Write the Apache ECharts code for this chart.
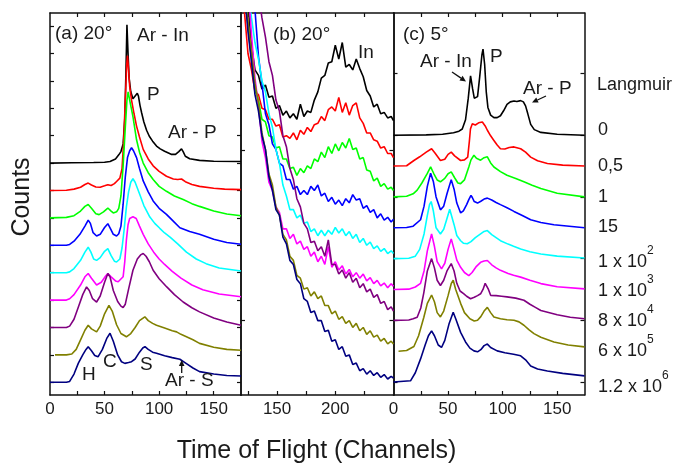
<!DOCTYPE html>
<html>
<head>
<meta charset="utf-8">
<script src="https://cdn.jsdelivr.net/npm/echarts@6/dist/echarts.min.js"></script>
<style>
html,body{margin:0;padding:0;background:#fff}
#main{width:681px;height:465px}
</style>
</head>
<body>
<div id="main"></div>
<script>
// exposure labels (Langmuir), one per curve, top to bottom
var exposureText = ['0', '0,5', '1', '15', '1 x 10', '1 x 10', '8 x 10', '6 x 10', '1.2 x 10'];
var exposurePow = ['', '', '', '', '2', '3', '4', '5', '6'];
var colors = ['#000000', '#ff0000', '#00ff00', '#0000ff', '#00ffff', '#ff00ff', '#800080', '#808000', '#000080'];
// vertical offset of each curve (stacked)
var offsets = [8, 7, 6, 5, 4, 3, 2, 1, 0];

// ---- panel (a) 20 deg : [channel, counts above baseline]
var aBlack = [[0,0],[20,0.01],[40,0.02],[50,0.03],[55,0.06],[60,0.15],[63,0.3],[65,0.42],[67,0.7],[68.5,1.6],[69.5,3.2],[70.5,5.05],[71.5,4.0],[72.5,3.1],[74,2.6],[76,2.35],[78,2.45],[80,2.55],[81,2.45],[82.5,2.1],[84,1.83],[86,1.5],[88.5,1.2],[91,0.98],[94,0.8],[97.6,0.62],[101,0.52],[105,0.43],[111,0.32],[115,0.32],[118,0.42],[120.5,0.52],[122,0.42],[124,0.25],[128,0.16],[137,0.1],[150,0.07],[175,0.06]];
var aRed = [[0,0],[15,0.01],[22,0.05],[28,0.12],[32,0.22],[35,0.27],[38,0.2],[42,0.13],[46,0.12],[50,0.17],[53,0.21],[56,0.18],[59,0.25],[61,0.33],[64,0.45],[66,0.8],[67.5,1.8],[69,3.3],[70.3,4.6],[71,4.92],[72,4.4],[73,3.8],[74.7,3.3],[77,2.8],[79.3,2.35],[82,1.95],[85.4,1.5],[90,1.15],[94.5,0.9],[100,0.7],[106.7,0.52],[113,0.42],[117,0.4],[120.5,0.42],[124,0.32],[130,0.22],[137,0.15],[150,0.08],[160,0.05],[175,0.03]];
var aGreen = [[0,0],[15,0.02],[22,0.08],[28,0.25],[32,0.42],[35,0.49],[38,0.35],[42,0.15],[45,0.12],[49,0.22],[53,0.36],[56,0.25],[58,0.18],[61,0.22],[63,0.35],[65,0.8],[67,1.9],[69,3.3],[70.5,4.3],[71.6,4.6],[73,4.3],[74.5,4.0],[76,3.7],[79.3,2.85],[82,2.4],[85.4,2.0],[90,1.65],[94.5,1.4],[100,1.15],[106.7,0.97],[114,0.8],[122,0.67],[130,0.52],[137,0.42],[150,0.25],[162,0.14],[175,0.08]];
var aBlue = [[0,0],[15,0],[18,0.03],[22,0.15],[27.4,0.4],[32,0.7],[35,0.92],[37,0.8],[39.5,0.46],[42.7,0.34],[46,0.4],[50,0.65],[53,0.79],[55.5,0.6],[58,0.4],[61,0.34],[63,0.42],[65,0.7],[67,1.5],[69,2.5],[71,3.2],[73,3.45],[74.7,3.56],[76.5,3.45],[79.3,3.2],[82,2.8],[85.4,2.35],[90,1.95],[94.5,1.62],[100,1.35],[106.7,1.13],[112,0.92],[119,0.64],[128,0.5],[137,0.4],[150,0.22],[162,0.1],[175,0.04]];
var aCyan = [[0,0],[15,0],[18,0.03],[22,0.15],[28,0.45],[32,0.75],[35,0.93],[37.5,0.75],[40,0.5],[42.7,0.45],[46,0.55],[50,0.78],[53,0.88],[56,0.62],[59,0.42],[61,0.39],[64,0.5],[66,0.9],[68,1.6],[70,2.4],[72,2.95],[74,3.3],[76,3.43],[78,3.3],[82,2.88],[86,2.45],[91.5,2.03],[96,1.8],[100.6,1.62],[105,1.45],[110,1.3],[117,1.05],[125,0.75],[134,0.5],[143,0.33],[155,0.17],[175,0.06]];
var aMagenta = [[0,0],[15,0],[18,0.05],[22,0.2],[28,0.55],[32,0.85],[35,0.97],[38,0.8],[42.7,0.55],[47,0.65],[51,0.88],[53,0.97],[56,0.85],[60,0.7],[62.5,0.67],[64.5,0.75],[67,0.85],[68.5,1.4],[70,2.2],[71.5,2.75],[73,2.98],[76,3.04],[79,2.98],[82,2.7],[85.4,2.4],[90,2.05],[95,1.75],[100,1.5],[105,1.3],[112,1.05],[120,0.8],[130,0.55],[140,0.38],[155,0.22],[175,0.12]];
var aPurple = [[0,0],[15,0],[18,0.05],[22,0.3],[26,0.75],[30,1.2],[33.5,1.48],[36,1.35],[39,1.05],[42.7,0.93],[46,1.15],[50,1.65],[53,1.97],[55,1.85],[58,1.35],[62,0.95],[65,0.78],[67,0.73],[69,0.85],[72,1.4],[76,2.09],[80,2.5],[83,2.65],[85.4,2.7],[88,2.6],[91,2.4],[94.5,2.09],[100,1.78],[107,1.48],[114,1.2],[122,0.93],[130,0.72],[137,0.57],[150,0.35],[162,0.2],[175,0.08]];
var aOlive = [[4.6,0],[15,0],[20,0.03],[24,0.2],[28,0.55],[32,0.9],[35,1.08],[38,0.95],[42.7,0.84],[46,1.05],[50,1.5],[54,1.81],[57,1.6],[61,1.1],[65,0.78],[70,0.66],[74,0.78],[78,1.0],[82,1.25],[86.9,1.39],[90,1.25],[94,1.15],[97.6,1.08],[105,0.98],[112,0.88],[116,0.84],[120,0.75],[125,0.66],[131,0.55],[137,0.42],[150,0.28],[162,0.2],[175,0.17]];
var aNavy = [[0,0],[15,0],[18,0.03],[22,0.3],[26,0.7],[30,1.0],[33,1.2],[35,1.3],[38,1.15],[41,0.98],[44,0.93],[48,1.2],[52,1.6],[55,1.79],[58,1.5],[62,1.0],[65.5,0.75],[68.6,0.69],[72,0.72],[74.7,0.75],[78,0.85],[82,1.1],[85,1.25],[87,1.3],[90,1.2],[94,1.1],[97.6,1.06],[105,0.97],[112,0.9],[119,0.84],[125,0.68],[131,0.52],[137,0.39],[150,0.3],[162,0.25],[175,0.23]];

// ---- panel (b) 20 deg, high channels : one value per channel in chB
var chB = [119,122,125,128,131,134,137,140,143,146,149,152,155,158,161,164,167,170,173,176,179,182,185,188,191,194,197,200,203,206,209,212,215,218,221,224,227,230,233,236,239,242,245,248,250];
var bBlack = [9.5,7.6,5.8,4.3,3.4,3.2,2.7,2.85,2.4,2.45,2.0,2.1,1.75,1.9,1.65,1.8,1.6,2.15,1.7,1.9,1.85,2.3,2.6,3.1,3.2,3.65,3.7,4.3,3.8,4.4,3.5,3.6,3.4,3.8,3.45,3.15,2.65,2.45,2.05,2.15,1.8,1.85,1.65,1.7,1.55];
var bRed = [8.5,6.5,5.0,4.4,3.6,3.5,3.0,2.95,2.6,2.6,2.35,2.4,1.95,2.0,1.9,2.1,1.85,2.2,2.05,2.3,2.15,2.4,2.45,2.7,2.55,2.95,3.05,2.9,3.4,2.85,3.2,2.75,3.1,3.2,2.65,2.45,2.1,2.1,1.85,1.8,1.55,1.6,1.35,1.35,1.2];
var bGreen = [10,8.2,7.0,5.8,4.7,4.3,3.6,3.5,3.0,2.95,2.55,2.6,2.15,2.15,1.8,1.85,1.55,1.8,1.65,1.9,1.8,2.15,2.05,2.4,2.2,2.6,2.35,2.7,2.45,2.75,2.55,2.9,2.5,2.55,2.15,2.2,1.75,1.7,1.35,1.45,1.15,1.25,1.05,1.12,1.0];
var bBlue = [14,13,11.5,10,8.6,6.9,5.9,4.8,4.4,3.7,3.5,3.0,2.9,2.4,2.4,2.05,2.15,1.85,2.0,1.85,2.15,2.0,2.2,1.8,1.9,1.6,1.75,1.5,1.65,1.45,1.7,1.55,1.85,1.65,1.7,1.35,1.45,1.2,1.3,1.0,1.15,0.92,1.02,0.85,0.95];
var bCyan = [14,12.5,10.3,9.3,8.4,7.8,7.0,6.6,5.8,5.3,4.5,4.0,3.2,2.8,2.3,2.3,2.0,2.1,1.8,1.85,1.5,1.6,1.35,1.55,1.35,1.55,1.4,1.65,1.45,1.6,1.35,1.5,1.25,1.4,1.1,1.25,1.0,1.12,0.88,0.98,0.78,0.88,0.7,0.8,0.7];
var bMagenta = [15,13.5,11.5,9.7,8.1,7.1,5.8,5.2,4.3,4.0,3.4,3.2,2.6,2.6,2.25,2.4,2.05,2.15,1.85,1.95,1.6,1.75,1.4,1.6,1.3,1.95,1.2,1.4,1.1,1.25,0.95,1.12,0.85,1.0,0.8,0.95,0.7,0.82,0.6,0.72,0.52,0.62,0.45,0.6,0.5];
var bPurple = [17,16,15,14,13,12.2,11.3,10.6,9.7,9.2,8.3,7.9,7.0,6.6,5.8,5.4,4.7,4.4,3.8,3.6,3.1,3.15,2.8,2.95,2.6,3.2,2.3,2.3,1.95,2.1,1.8,2.0,1.65,1.8,1.45,1.6,1.3,1.4,1.1,1.2,0.88,0.95,0.65,0.75,0.6];
var bOlive = [16,14,12.2,11.1,9.9,9.2,8.1,7.5,6.6,6.2,5.4,5.1,4.4,4.2,3.6,3.45,2.9,2.8,2.4,2.45,2.15,2.3,2.05,2.15,1.8,1.8,1.5,1.6,1.3,1.4,1.15,1.25,1.0,1.15,0.88,1.0,0.75,0.88,0.65,0.72,0.5,0.6,0.4,0.5,0.4];
var bNavy = [17,14.3,12.8,11.7,10.5,9.9,9.0,8.5,7.5,7.0,6.3,6.1,5.3,5.05,4.45,4.3,3.75,3.6,3.05,2.95,2.55,2.6,2.25,2.25,1.85,1.9,1.5,1.55,1.2,1.3,0.95,1.0,0.65,0.7,0.42,0.5,0.3,0.42,0.25,0.35,0.18,0.28,0.12,0.22,0.15];

// ---- panel (c) 5 deg
var cBlack = [[0,0],[30,0.01],[45,0.03],[55,0.08],[60,0.13],[63,0.2],[66,0.5],[68.5,1.2],[70.6,1.92],[72.5,1.5],[74,1.2],[75.2,1.17],[77,1.25],[79,1.9],[81,2.6],[82,2.79],[83.5,2.3],[85,1.4],[86.5,0.9],[89,0.65],[92,0.57],[95,0.57],[98,0.63],[101,0.8],[104,1.0],[107,1.08],[110.4,1.11],[113,1.09],[116.5,1.12],[119,1.08],[121,0.95],[123,0.7],[125.7,0.35],[129,0.18],[135,0.09],[150,0.03],[175,0]];
var cRed = [[0,0],[12,0.01],[18.7,0.18],[24,0.3],[30,0.45],[34.9,0.56],[38,0.42],[43,0.18],[47,0.22],[50,0.38],[52.9,0.45],[56,0.33],[61.5,0.18],[65,0.2],[68,0.29],[69.5,0.8],[70.5,1.2],[72.2,1.37],[75,1.33],[78,1.4],[81.4,1.43],[84,1.3],[86,1.16],[89,0.98],[92,0.83],[95,0.68],[98,0.56],[102,0.55],[106,0.6],[110.4,0.62],[116.5,0.56],[121,0.45],[125.7,0.29],[132,0.17],[141,0.08],[155,0.03],[175,0]];
var cGreen = [[0,0],[12,0.02],[18,0.1],[21.7,0.22],[26,0.45],[31,0.76],[34,0.97],[37,0.75],[40,0.55],[43,0.49],[47,0.6],[50,0.75],[52.9,0.81],[56,0.62],[59,0.45],[61.5,0.43],[65,0.55],[69,0.97],[71,1.2],[73.7,1.35],[76,1.25],[79.8,1.19],[83,1.27],[86,1.3],[89,1.1],[92,0.97],[98,0.82],[104,0.7],[112,0.6],[119.5,0.49],[127,0.38],[135,0.27],[150,0.12],[175,0]];
var cBlue = [[0,0],[12,0.01],[18,0.05],[24.8,0.26],[28,0.7],[31,1.34],[34,1.77],[36.5,1.5],[39,1.0],[43,0.58],[46,0.7],[49,1.1],[52.9,1.56],[55.5,1.25],[58,0.8],[61.5,0.48],[64,0.55],[67,0.75],[69,0.91],[71,1.05],[72.2,0.98],[74,0.85],[77,0.8],[80,0.86],[83,0.93],[86,0.96],[90,0.9],[94,0.82],[98,0.75],[104,0.65],[110.4,0.53],[118,0.4],[125.7,0.26],[135,0.17],[147,0.1],[175,0]];
var cCyan = [[0,0],[14,0.01],[20,0.08],[24,0.3],[28,0.8],[31,1.4],[33,1.75],[34.5,1.85],[36.5,1.55],[39,1.0],[43,0.8],[46,0.95],[49,1.3],[51.5,1.6],[53,1.55],[55.5,1.1],[58,0.75],[61.5,0.58],[64,0.5],[67.6,0.48],[71,0.55],[75,0.68],[79.8,0.8],[83,0.88],[86,0.91],[90,0.78],[94,0.68],[98,0.58],[105,0.47],[110,0.4],[116.5,0.31],[125,0.22],[135,0.15],[150,0.08],[175,0.02]];
var cMagenta = [[0,0],[14,0.01],[20,0.08],[24.8,0.2],[28,0.6],[31,1.25],[34.9,1.8],[37.5,1.4],[40,0.9],[44,0.67],[47,0.85],[50,1.3],[52.9,1.64],[55.5,1.3],[58,0.95],[61.5,0.72],[65,0.55],[69,0.45],[72,0.55],[76,0.75],[79.8,0.88],[83,0.92],[86,0.94],[90,0.8],[94,0.7],[98,0.62],[105,0.52],[110,0.46],[116.5,0.4],[125,0.3],[135,0.19],[150,0.09],[175,0.02]];
var cPurple = [[0,0],[14,0.01],[18,0.05],[21.7,0.1],[25,0.4],[27.8,0.9],[31,1.6],[34.9,2.0],[37.5,1.7],[40,1.3],[43,1.13],[46,1.3],[49,1.6],[52.9,1.84],[55.5,1.6],[58,1.2],[61,0.95],[64.5,0.86],[67,0.78],[70.6,0.7],[74,0.75],[77,0.8],[79.8,0.86],[82,1.0],[84,1.2],[85.3,1.24],[87,1.0],[89,0.81],[94,0.8],[99,0.78],[104,0.76],[112,0.72],[119.5,0.65],[125,0.52],[130,0.42],[135,0.32],[150,0.18],[162,0.1],[175,0.05]];
var cOlive = [[4.6,0],[12,0.02],[18.7,0.15],[23,0.5],[27.8,1.1],[31,1.55],[34.9,1.82],[37.5,1.6],[40,1.25],[43,1.11],[46,1.3],[50,1.8],[53,2.2],[54.7,2.3],[57,2.0],[61.5,1.55],[65,1.25],[70,1.05],[74,0.98],[77,1.0],[80,1.12],[83,1.3],[86,1.42],[89,1.25],[92,1.11],[98,1.05],[104,1.02],[110.4,1.0],[115,0.95],[119.5,0.84],[124,0.7],[128.7,0.57],[135,0.45],[147,0.3],[160,0.2],[175,0.14]];
var cNavy = [[0,0],[15.6,0.04],[20,0.3],[24.8,0.75],[29,1.2],[32,1.5],[34.9,1.66],[37.5,1.5],[41,1.2],[44,1.12],[47,1.35],[51,1.9],[54.7,2.26],[57,2.05],[61.5,1.61],[66,1.3],[70,1.1],[73.7,1.01],[77,0.98],[80,1.05],[83,1.18],[86,1.23],[89,1.12],[95,1.01],[102,0.95],[110,0.9],[116.5,0.85],[121,0.72],[125.7,0.52],[132,0.42],[141,0.36],[155,0.28],[175,0.2]];

var panelA = [aBlack, aRed, aGreen, aBlue, aCyan, aMagenta, aPurple, aOlive, aNavy];
var panelB = [bBlack, bRed, bGreen, bBlue, bCyan, bMagenta, bPurple, bOlive, bNavy];
var panelC = [cBlack, cRed, cGreen, cBlue, cCyan, cMagenta, cPurple, cOlive, cNavy];

// axis ticks / labels
var tickA = [25, 50, 75, 100, 125, 150];
var labelA = [0, 50, 100, 150];
var tickB = [125, 150, 175, 200, 225];
var labelB = [150, 200];
var yTickA = [0,1,2,3,4,5,6,7,8,9,10,11,12,13];
var yTickB = [2.27, 8.48];
var yTickC = [0, 2, 4, 6, 8, 10];

var FONT = '"Liberation Sans", Arial, sans-serif';
var chart = echarts.init(document.getElementById('main'));

var grids = [
  {left: 50, top: 13, width: 191, height: 382},
  {left: 241, top: 13, width: 152.5, height: 382},
  {left: 393.5, top: 13, width: 191, height: 382}
];

function xAxisOf(grid, pos, min, max, ticks, labels) {
  return {
    type: 'value', gridIndex: grid, position: pos, min: min, max: max,
    axisLine: {show: true, onZero: false, lineStyle: {color: '#111', width: 1.5}},
    axisTick: {show: true, inside: true, length: 4, customValues: ticks, lineStyle: {color: '#111', width: 1.2}},
    axisLabel: {show: pos === 'bottom', customValues: labels, fontSize: 17, color: '#1a1a1a', fontFamily: FONT, margin: 6},
    splitLine: {show: false}
  };
}
function yAxisOf(grid, pos, min, max, ticks) {
  return {
    type: 'value', gridIndex: grid, position: pos, min: min, max: max,
    axisLine: {show: true, onZero: false, lineStyle: {color: '#111', width: 1.5}},
    axisTick: {show: true, inside: true, length: 4, customValues: ticks, lineStyle: {color: '#111', width: 1.2}},
    axisLabel: {show: false},
    splitLine: {show: false}
  };
}

var xAxes = [
  xAxisOf(0, 'bottom', 0, 175, tickA, labelA), xAxisOf(0, 'top', 0, 175, tickA, []),
  xAxisOf(1, 'bottom', 119, 250, tickB, labelB), xAxisOf(1, 'top', 119, 250, tickB, []),
  xAxisOf(2, 'bottom', 0, 175, tickA, labelA), xAxisOf(2, 'top', 0, 175, tickA, [])
];
var yAxes = [
  yAxisOf(0, 'left', -0.464, 13.478, yTickA), yAxisOf(0, 'right', -0.464, 13.478, yTickA),
  yAxisOf(1, 'left', -0.464, 13.478, yTickB), yAxisOf(1, 'right', -0.464, 13.478, yTickB),
  yAxisOf(2, 'left', -0.42, 11.96, yTickC), yAxisOf(2, 'right', -0.42, 11.96, yTickC)
];

var series = [];
function addLine(data, i, axisIdx) {
  series.push({
    type: 'line', xAxisIndex: axisIdx, yAxisIndex: axisIdx, data: data,
    showSymbol: false, symbol: 'none', silent: true, clip: true,
    lineStyle: {color: colors[i], width: 1.6}
  });
}
panelA.forEach(function(c, i) {
  addLine(c.map(function(p) { return [p[0], p[1] + offsets[i]]; }), i, 0);
});
panelB.forEach(function(c, i) {
  addLine(chB.map(function(x, j) { return [x, c[j] + offsets[i]]; }), i, 2);
});
panelC.forEach(function(c, i) {
  addLine(c.map(function(p) { return [p[0], p[1] + offsets[i]]; }), i, 4);
});

function txt(s, x, y, size, extra) {
  var st = {text: s, x: x, y: y, font: (size || 19) + 'px ' + FONT, fill: '#1a1a1a', textAlign: 'left', textVerticalAlign: 'middle'};
  if (extra) for (var k in extra) st[k] = extra[k];
  return {type: 'text', z: 100, style: st};
}
function arrow(x1, y1, x2, y2) {
  var dx = x2 - x1, dy = y2 - y1, L = Math.sqrt(dx * dx + dy * dy);
  var ux = dx / L, uy = dy / L, px = -uy, py = ux;
  var bx = x2 - 6 * ux, by = y2 - 6 * uy;
  return [
    {type: 'line', z: 100, shape: {x1: x1, y1: y1, x2: bx, y2: by}, style: {stroke: '#111', lineWidth: 1.3}},
    {type: 'polygon', z: 100, shape: {points: [[x2, y2], [bx + 2.8 * px, by + 2.8 * py], [bx - 2.8 * px, by - 2.8 * py]]}, style: {fill: '#111'}}
  ];
}

var graphics = [
  txt('(a) 20°', 55, 34), txt('Ar - In', 137, 36), txt('P', 147, 95), txt('Ar - P', 168, 133),
  txt('H', 82, 375), txt('C', 103, 362), txt('S', 140, 365), txt('Ar - S', 165, 381),
  txt('(b) 20°', 273, 35), txt('In', 358, 53),
  txt('(c) 5°', 403, 35), txt('Ar - In', 420, 62), txt('P', 490, 57), txt('Ar - P', 523, 89),
  txt('Langmuir', 597, 85, 18),
  txt('Counts', 0, 0, 25, {textAlign: 'center'}),
  txt('Time of Flight (Channels)', 316.5, 451, 25, {textAlign: 'center'})
];
// rotate the y title
graphics[15].rotation = Math.PI / 2;
graphics[15].x = 22;
graphics[15].y = 197;

var labelY = [130, 166, 197, 227, 258, 287, 317, 347, 383];
exposureText.forEach(function(t, i) {
  var s = exposurePow[i] ? '{m|' + t + '}{s|' + exposurePow[i] + '}' : t;
  graphics.push(txt(s, 598, labelY[i], 18, {
    rich: {
      m: {fontSize: 18, fontFamily: FONT, fill: '#1a1a1a', lineHeight: 26, verticalAlign: 'bottom'},
      s: {fontSize: 12, fontFamily: FONT, fill: '#1a1a1a', lineHeight: 12, verticalAlign: 'top'}
    }
  }));
});
graphics = graphics.concat(arrow(181.7, 373, 181.7, 360), arrow(452, 72, 466, 81.5), arrow(546, 96, 532, 102.5));

chart.setOption({
  animation: false,
  backgroundColor: '#ffffff',
  grid: grids,
  xAxis: xAxes,
  yAxis: yAxes,
  series: series,
  graphic: graphics
});
</script>
</body>
</html>
